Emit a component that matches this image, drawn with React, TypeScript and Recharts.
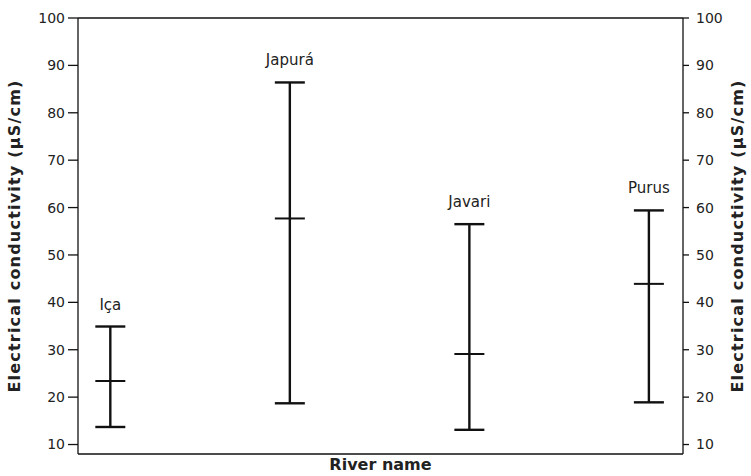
import { ComposedChart, Scatter, ErrorBar, XAxis, YAxis, ReferenceLine } from 'recharts';

const rivers = ['Iça', 'Japurá', 'Javari', 'Purus'];
const positions = [1, 2, 3, 4];
const means = [23.4, 57.7, 29.1, 43.9];
const lows = [13.7, 18.7, 13.1, 18.9];
const highs = [34.9, 86.4, 56.5, 59.4];
const yTicks = [10, 20, 30, 40, 50, 60, 70, 80, 90, 100];

const data = rivers.map((name, i) => ({
  name,
  x: positions[i],
  mean: means[i],
  hi: highs[i],
  err: [means[i] - lows[i], highs[i] - means[i]],
}));

const FONT = '"DejaVu Sans", Verdana, sans-serif';
const INK = '#111';

const MeanTick = (props: any) => {
  const { cx, cy } = props;
  if (cx == null || cy == null) return null;
  return <line x1={cx - 15} x2={cx + 15} y1={cy} y2={cy} stroke={INK} strokeWidth={2} />;
};

const RiverLabel = (props: any) => {
  const { cx, cy, payload } = props;
  if (cx == null || cy == null) return null;
  return (
    <text x={cx} y={cy - 17} textAnchor="middle" fontFamily={FONT} fontSize={15} fill="#222">
      {payload.name}
    </text>
  );
};

const Nothing = () => <g />;

const YTitle = (props: any) => {
  const { viewBox, cxPos } = props;
  const cy = viewBox.y + viewBox.height / 2;
  return (
    <text
      x={cxPos}
      y={cy}
      transform={`rotate(-90 ${cxPos} ${cy})`}
      textAnchor="middle"
      dominantBaseline="central"
      fontFamily={FONT}
      fontWeight="bold"
      fontSize={16}
      letterSpacing={1.2}
      fill="#222"
    >
      Electrical conductivity (µS/cm)
    </text>
  );
};

const XTitle = (props: any) => {
  const { viewBox } = props;
  return (
    <text
      x={viewBox.x + viewBox.width / 2}
      y={viewBox.y + 16}
      textAnchor="middle"
      fontFamily={FONT}
      fontWeight="bold"
      fontSize={16}
      fill="#222"
    >
      River name
    </text>
  );
};

export default function App() {
  return (
    <div style={{ position: 'absolute', left: 0, top: 0, background: '#fff' }}>
      <ComposedChart width={751} height={476} data={data} margin={{ top: 18, right: 0, bottom: 0, left: 0 }}>
        <XAxis
          dataKey="x"
          type="number"
          domain={[0.82, 4.19]}
          ticks={[]}
          tick={false}
          tickLine={false}
          height={22}
          axisLine={{ stroke: INK, strokeWidth: 1.3 }}
          label={<XTitle />}
        />
        <YAxis
          yAxisId="left"
          type="number"
          domain={[8, 100]}
          ticks={yTicks}
          width={78}
          tickSize={10}
          tickMargin={3}
          axisLine={{ stroke: INK, strokeWidth: 1.3 }}
          tickLine={{ stroke: INK, strokeWidth: 1.3 }}
          tick={{ fontFamily: FONT, fontSize: 14, fill: '#222' }}
          label={<YTitle cxPos={14} />}
        />
        <YAxis
          yAxisId="right"
          orientation="right"
          type="number"
          domain={[8, 100]}
          ticks={yTicks}
          width={68}
          tickSize={6}
          tickMargin={7}
          axisLine={{ stroke: INK, strokeWidth: 1.3 }}
          tickLine={{ stroke: INK, strokeWidth: 1.3 }}
          tick={{ fontFamily: FONT, fontSize: 14, fill: '#222' }}
          label={<YTitle cxPos={737} />}
        />
        <ReferenceLine yAxisId="left" y={100} stroke={INK} strokeWidth={1.3} />
        <Scatter yAxisId="right" dataKey="mean" shape={<Nothing />} isAnimationActive={false} />
        <Scatter yAxisId="left" dataKey="mean" shape={<MeanTick />} isAnimationActive={false}>
          <ErrorBar dataKey="err" direction="y" width={15} stroke={INK} strokeWidth={2.4} />
        </Scatter>
        <Scatter yAxisId="left" dataKey="hi" shape={<RiverLabel />} isAnimationActive={false} />
      </ComposedChart>
    </div>
  );
}
